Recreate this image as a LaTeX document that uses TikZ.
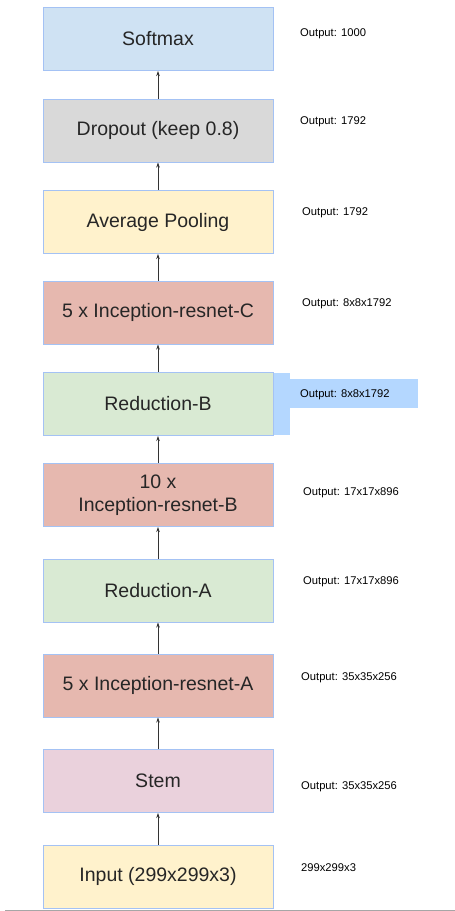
\documentclass[tikz,border=0pt]{standalone}
\usepackage{fontspec}
\setmainfont{Liberation Sans}
\usetikzlibrary{arrows.meta}
\definecolor{bordc}{HTML}{A4C2F4}
\definecolor{cblue}{HTML}{CFE2F3}
\definecolor{cgray}{HTML}{D9D9D9}
\definecolor{cyell}{HTML}{FFF2CC}
\definecolor{cred}{HTML}{E6B8AF}
\definecolor{cgreen}{HTML}{D9EAD3}
\definecolor{cpink}{HTML}{EAD1DC}
\definecolor{hilite}{RGB}{180,215,255}
\tikzset{
  layer/.style={draw=bordc, line width=1pt, minimum width=230pt, minimum height=63pt,
    inner sep=0pt, align=center, font=\fontsize{19.5}{22.5}\selectfont, text=black!85},
  outlbl/.style={anchor=west, inner sep=0pt, font=\fontsize{11.2}{13}\selectfont},
  flow/.style={-{Stealth[length=5pt,width=3.5pt]}, line width=0.8pt, black!80}
}
\begin{document}
\begin{tikzpicture}[x=1pt,y=-1pt]
\useasboundingbox (0,0) rectangle (455,911);
% highlight behind Reduction-B label
\fill[hilite] (273,373) rectangle (290,435);
\fill[hilite] (273,379) rectangle (418,408);
% layers
\node[layer, fill=cblue]  (soft) at (158,39)    {Softmax};
\node[layer, fill=cgray]  (drop) at (158,130.5) {Dropout (keep 0.8)};
\node[layer, fill=cyell]  (avg)  at (158,222)   {Average Pooling};
\node[layer, fill=cred]   (incC) at (158,312.5) {5 x Inception-resnet-C};
\node[layer, fill=cgreen] (redB) at (158,404)   {Reduction-B};
\node[layer, fill=cred]   (incB) at (158,495)   {10 x\\Inception-resnet-B};
\node[layer, fill=cgreen] (redA) at (158,590.5) {Reduction-A};
\node[layer, fill=cred]   (incA) at (158,685.5) {5 x Inception-resnet-A};
\node[layer, fill=cpink]  (stem) at (158,781)   {Stem};
\node[layer, fill=cyell]  (inp)  at (158,876.5) {Input (299x299x3)};
% connectors
\draw[flow] (inp.north)  -- (stem.south);
\draw[flow] (stem.north) -- (incA.south);
\draw[flow] (incA.north) -- (redA.south);
\draw[flow] (redA.north) -- (incB.south);
\draw[flow] (incB.north) -- (redB.south);
\draw[flow] (redB.north) -- (incC.south);
\draw[flow] (incC.north) -- (avg.south);
\draw[flow] (avg.north)  -- (drop.south);
\draw[flow] (drop.north) -- (soft.south);
% output labels
\node[outlbl] (l1)  at (300,34)  {Output: 1000};
\node[outlbl] (l2)  at (300,122) {Output: 1792};
\node[outlbl] (l3)  at (302,213) {Output: 1792};
\node[outlbl] (l4)  at (302,304) {Output: 8x8x1792};
\node[outlbl] (l5)  at (300,395) {Output: 8x8x1792};
\node[outlbl] (l6)  at (303,493) {Output: 17x17x896};
\node[outlbl] (l7)  at (303,582) {Output: 17x17x896};
\node[outlbl] (l8)  at (301,678) {Output: 35x35x256};
\node[outlbl] (l9)  at (301,787) {Output: 35x35x256};
\node[outlbl] (l10) at (301,868) {299x299x3};
% bottom rule
\coordinate (bl) at (5,910);
\coordinate (br) at (455,910);
\draw[gray!70, line width=1pt] (bl) -- (br);
\end{tikzpicture}
\end{document}
